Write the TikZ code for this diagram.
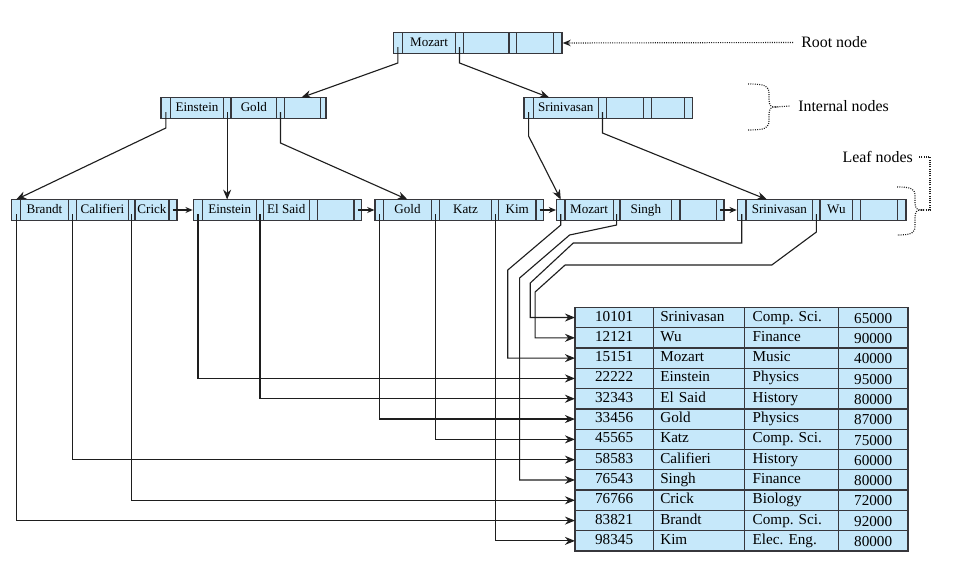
\documentclass[tikz,border=0pt]{standalone}
\usepackage{fontspec}
\setmainfont{Liberation Serif}
\frenchspacing
\usetikzlibrary{arrows.meta,matrix,calc}
\definecolor{cellblue}{RGB}{198,232,250}
\definecolor{rim}{RGB}{55,55,60}
\definecolor{wire}{RGB}{30,30,30}
\tikzset{
  cw/.style={minimum width=#1*0.25mm},
  cell/.style={draw=rim,line width=0.9pt,fill=cellblue,inner sep=0pt,outer sep=0pt,anchor=center,
    minimum height=5.2mm,text height=1.45ex,text depth=.35ex,font=\fontsize{9.3}{11}\selectfont},
  bnode/.style={matrix of nodes,nodes in empty cells,column sep=-0.9pt,inner sep=0pt,outer sep=0pt,nodes={cell}},
  rel/.style={matrix of nodes,nodes in empty cells,column sep=-0.9pt,row sep=-0.9pt,inner sep=0pt,outer sep=0pt,
    nodes={cell,minimum height=5.075mm,font=\fontsize{10.8}{13}\selectfont},
    column 1/.style={nodes={text width=18.575mm,inner xsep=0.5mm,align=center}},
    column 2/.style={nodes={text width=19.25mm,inner xsep=1.75mm,align=left}},
    column 3/.style={nodes={text width=19.3mm,inner xsep=2.1mm,align=left}},
    column 4/.style={nodes={text width=16.425mm,inner xsep=0.5mm,align=center,text height=2.1ex}}},
  arr/.style={draw=wire,line width=0.8pt,-{Stealth[length=2.5mm,width=2mm]}},
  nextarr/.style={draw=wire,line width=0.8pt,-{Stealth[length=1.8mm,width=1.5mm]}},
  hint/.style={draw=wire,line width=0.8pt,dash pattern=on 0.7pt off 0.9pt},
  tag/.style={anchor=west,inner sep=0pt,font=\fontsize{11.3}{13}\selectfont},
}
\begin{document}
\begin{tikzpicture}[x=0.025cm,y=-0.025cm]
\useasboundingbox (0,0) rectangle (971,572);

% tree nodes
\matrix (root) [bnode] at (477.7,43) {
  |[cw=9]| & |[cw=53.4]| Mozart & |[cw=7.6]| & |[cw=45.7]| & |[cw=7.7]| & |[cw=37]| & |[cw=8.3]| \\
};
\matrix (inl) [bnode] at (243.5,108) {
  |[cw=9.7]| & |[cw=52.6]| Einstein & |[cw=7.7]| & |[cw=45.7]| Gold & |[cw=7.6]| & |[cw=36.4]| & |[cw=5.3]| \\
};
\matrix (inr) [bnode] at (608.3,108) {
  |[cw=9.3]| & |[cw=65]| Srinivasan & |[cw=8.4]| & |[cw=36.6]| & |[cw=8.4]| & |[cw=32.6]| & |[cw=8.4]| \\
};
\matrix (l1) [bnode] at (94.3,210) {
  |[cw=9]| & |[cw=47.6]| Brandt & |[cw=8.4]| & |[cw=51.6]| Califieri & |[cw=6.7]| & |[cw=34]| Crick & |[cw=8]| \\
};
\matrix (l2) [bnode] at (277.5,210) {
  |[cw=9.4]| & |[cw=54]| Einstein & |[cw=6.6]| & |[cw=46]| El Said & |[cw=8]| & |[cw=36.7]| & |[cw=7.7]| \\
};
\matrix (l3) [bnode] at (459.2,210) {
  |[cw=8.3]| & |[cw=48.4]| Gold & |[cw=7.6]| & |[cw=52.4]| Katz & |[cw=6.6]| & |[cw=37.7]| Kim & |[cw=7.3]| \\
};
\matrix (l4) [bnode] at (640.3,210) {
  |[cw=8.3]| & |[cw=48.3]| Mozart & |[cw=6.7]| & |[cw=51.7]| Singh & |[cw=8.3]| & |[cw=36.7]| & |[cw=7.3]| \\
};
\matrix (l5) [bnode] at (821.7,210) {
  |[cw=8.7]| & |[cw=66.7]| Srinivasan & |[cw=7.3]| & |[cw=32.7]| Wu & |[cw=8]| & |[cw=37]| & |[cw=8.3]| \\
};

% instructor relation
\matrix (tab) [rel] at (741.5,429.2) {
  10101 & Srinivasan & Comp. Sci. & 65000 \\
  12121 & Wu         & Finance    & 90000 \\
  15151 & Mozart     & Music      & 40000 \\
  22222 & Einstein   & Physics    & 95000 \\
  32343 & El Said    & History    & 80000 \\
  33456 & Gold       & Physics    & 87000 \\
  45565 & Katz       & Comp. Sci. & 75000 \\
  58583 & Califieri  & History    & 60000 \\
  76543 & Singh      & Finance    & 80000 \\
  76766 & Crick      & Biology    & 72000 \\
  83821 & Brandt     & Comp. Sci. & 92000 \\
  98345 & Kim        & Elec. Eng. & 80000 \\
};

% root and internal pointers
\draw[arr] ([yshift=-1mm]root-1-1.center) -- ++(0,16) -- ($(inl-1-6.north west)+(17,0)$);
\draw[arr] ([yshift=-1mm]root-1-3.center) -- ++(0,16) -- ($(inr-1-2.north west)+(16,0)$);
\draw[arr] ([yshift=-1mm]inl-1-1.center) -- ++(0,16) -- (l1-1-1.north);
\draw[arr] ([yshift=-1mm]inl-1-3.center) -- (inl-1-3 |- l2-1-2.north);
\draw[arr] ([yshift=-1mm]inl-1-5.center) -- ++(0,31) -- (l3-1-2.north);
\draw[arr] ([yshift=-1mm]inr-1-1.center) -- ++(0,24) -- (l4-1-1.north);
\draw[arr] ([yshift=-1mm]inr-1-3.center) -- ++(0,21) -- ($(l5-1-2.north west)+(21,0)$);

% leaf chain
\draw[nextarr] (l1-1-7.center) -- (l2.west);
\draw[nextarr] (l2-1-7.center) -- (l3.west);
\draw[nextarr] (l3-1-7.center) -- (l4.west);
\draw[nextarr] (l4-1-7.center) -- (l5.west);

% leaves to records
\draw[arr] ([yshift=-1mm]l1-1-1.center) |- (tab-11-1.west);
\draw[arr] ([yshift=-1mm]l1-1-3.center) |- (tab-8-1.west);
\draw[arr] ([yshift=-1mm]l1-1-5.center) |- (tab-10-1.west);
\draw[arr] ([yshift=-1mm]l2-1-1.center) |- (tab-4-1.west);
\draw[arr] ([yshift=-1mm]l2-1-3.center) |- (tab-5-1.west);
\draw[arr] ([yshift=-1mm]l3-1-1.center) |- (tab-6-1.west);
\draw[arr] ([yshift=-1mm]l3-1-3.center) |- (tab-7-1.west);
\draw[arr] ([yshift=-1mm]l3-1-5.center) |- (tab-12-1.west);
\draw[arr] ([yshift=-1mm]l4-1-1.center) -- ++(0,11) -- ++(-53,45) |- (tab-3-1.west);
\draw[arr] ([yshift=-1mm]l4-1-3.center) -- ++(0,11) -- ++(-47,10) -- ++(-50,43) |- (tab-9-1.west);
\draw[arr] ([yshift=-1mm]l5-1-1.center) -- ++(0,29) -- ++(-168.4,0) -- ++(-43,40) |- (tab-1-1.west);
\draw[arr] ([yshift=-1mm]l5-1-3.center) -- ++(0,18) -- ++(-44.6,33) -- ++(-206.7,0) -- ++(-30,27) |- (tab-2-1.west);

% annotations
\node[tag] (rootlbl) at (801,42.5) {Root node};
\node[tag] (intlbl) at (798,106) {Internal nodes};
\node[tag,anchor=east] (leaflbl) at (913,157) {Leaf nodes};
\draw[hint,-{Stealth[length=2mm,width=1.6mm]}] ([xshift=-2mm]rootlbl.west) -- (root.east);
\draw[hint] (748,84) .. controls (766,84) and (769,86) .. (769,94) -- (769,100)
  .. controls (769,105) and (771,107) .. (775,107) .. controls (771,107) and (769,109) .. (769,114)
  -- (769,120) .. controls (769,128) and (766,130) .. (748,130);
\draw[hint] (775,107) -- ([xshift=-2mm]intlbl.west);
\draw[hint] (897,187) .. controls (912,187) and (915,189) .. (915,196) -- (915,203)
  .. controls (915,208) and (917,210) .. (921,210) .. controls (917,210) and (915,212) .. (915,217)
  -- (915,226) .. controls (915,233) and (912,235) .. (897,235);
\draw[hint] (921,210) -- (930,210) -- (930,157) -- ([xshift=1.5mm]leaflbl.east);
\end{tikzpicture}
\end{document}
